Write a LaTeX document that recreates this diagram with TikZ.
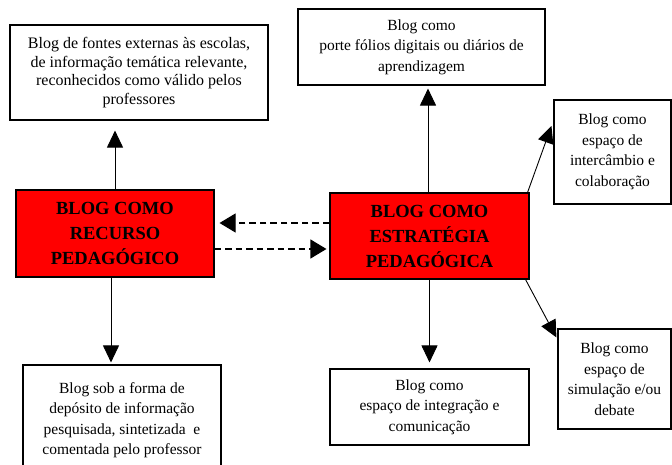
\documentclass[tikz,border=0pt]{standalone}
\usepackage{fontspec}
\setmainfont{Liberation Serif}
\usetikzlibrary{arrows.meta}
\tikzset{
  wbox/.style={draw=black, line width=1.1pt, fill=white, inner sep=0pt, align=center,
    font=\fontsize{15.5}{20.5}\selectfont},
  rbox/.style={draw=black, line width=1.1pt, fill=red, inner sep=0pt, align=center,
    font=\fontsize{18.5}{25}\selectfont\bfseries},
  arr/.style={draw=black, line width=0.9pt, -{Triangle[length=17pt,width=16pt]}},
  dasharr/.style={draw=black, line width=1.1pt, dash pattern=on 6.5pt off 4pt,
    -{Triangle[length=16pt,width=19pt]}}
}
\begin{document}
\begin{tikzpicture}[x=1pt,y=-1pt]
\useasboundingbox (0,0) rectangle (672,465);
\clip (0,0) rectangle (672,465);
\fill[white] (0,0) rectangle (672,465);
% white boxes
\node[wbox, minimum width=258pt, minimum height=95pt, font=\fontsize{16}{18.8}\selectfont] (tl) at (139,72.5)
  {Blog de fontes externas às escolas,\\ de informação temática relevante,\\ reconhecidos como válido pelos\\ professores};
\node[wbox, minimum width=247pt, minimum height=76pt] (tm) at (421.5,47)
  {Blog como\\ porte fólios digitais ou diários de\\ aprendizagem};
\node[wbox, minimum width=117pt, minimum height=104pt] (tr) at (612.5,152)
  {Blog como\\ espaço de\\ intercâmbio e\\ colaboração};
\node[wbox, minimum width=198pt, minimum height=110pt] (bl) at (122,420)
  {Blog sob a forma de\\ depósito de informação\\ pesquisada, sintetizada\ \ e\\ comentada pelo professor};
\node[wbox, minimum width=199pt, minimum height=76pt] (bm) at (429.5,407)
  {Blog como\\ espaço de integração e\\ comunicação};
\node[wbox, minimum width=113pt, minimum height=100pt] (br) at (614.5,379)
  {Blog como\\ espaço de\\ simulação e/ou\\ debate};
% red boxes
\node[rbox, minimum width=198pt, minimum height=87pt] (lred) at (115,233.5)
  {BLOG COMO\\ RECURSO\\ PEDAGÓGICO};
\node[rbox, minimum width=199pt, minimum height=86pt] (rred) at (429.5,236)
  {BLOG COMO\\ ESTRATÉGIA\\ PEDAGÓGICA};
% arrows
\draw[arr, shorten >=10pt] (lred.north) -- (lred.north |- tl.south);
\draw[arr, shorten >=2pt] ([xshift=-4pt]lred.south) -- ([xshift=-4pt]lred.south |- bl.north);
\draw[arr, shorten >=3pt] ([xshift=-1.5pt]rred.north) -- ([xshift=-1.5pt]rred.north |- tm.south);
\draw[arr, shorten >=6pt] (rred.south) -- (rred.south |- bm.north);
\draw[arr] ([xshift=-2pt]rred.north east) -- ([shift={(-2pt,26pt)}]tr.west);
\draw[arr] ([xshift=-4pt]rred.south east) -- ([shift={(-1pt,-9pt)}]br.north west);
% dashed arrows
\draw[dasharr, shorten >=5pt] ([yshift=13pt]rred.west) -- ([yshift=13pt]rred.west -| lred.east);
\draw[dasharr, shorten >=3pt] ([yshift=-15.5pt]lred.east) -- ([yshift=-15.5pt]lred.east -| rred.west);
\end{tikzpicture}
\end{document}
